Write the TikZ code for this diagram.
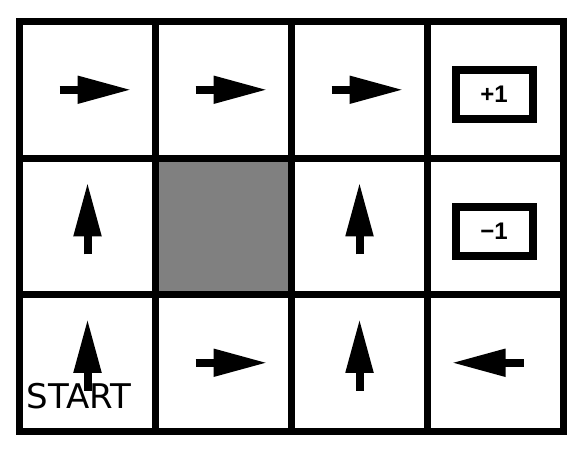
\documentclass[tikz,border=0pt]{standalone}
\usepackage{fontspec}
\setsansfont{DejaVu Sans}
\newfontfamily\rewardfont{Liberation Sans}
\usetikzlibrary{calc,arrows.meta}
\tikzset{cell/.style={draw, line width=7pt, minimum width=136pt, minimum height=136.5pt, inner sep=0pt, outer sep=0pt},
  policy/.style={line width=8pt, -{Triangle[length=54pt, width=26pt]}},
  reward/.style={draw, line width=8pt, minimum width=77pt, minimum height=49pt, inner sep=0pt, font=\rewardfont\bfseries\fontsize{24}{24}\selectfont}}

\begin{document}
\begin{tikzpicture}[x=1pt, y=-1pt]
    \useasboundingbox (0,0) rectangle (583,451);
    % the wall
    \fill[black!50] (155,156) rectangle (291,294);
    \foreach \r in {1,2,3}
        \foreach \c in {1,...,4}
            \node[cell] (c\r\c) at ({136*\c-48.5}, {136.5*\r-46.75}) {};
    % policy arrows
    \foreach \n/\dx/\dy in {c11/1/0, c12/1/0, c13/1/0, c21/0/-1, c23/0/-1, c31/0/-1, c32/1/0, c33/0/-1, c34/-1/0}
        \draw[policy] ($(\n)-28*(\dx,\dy)$) -- ($(\n)+44*(\dx,\dy)$);
    \node[reward] (win) at ($(c14)+(-1.5,4.5)$) {+1};
    \node[reward] (lose) at ($(c24)+(-1.5,5)$) {−1};
    \node[anchor=base west, inner sep=0pt, font=\sffamily\fontsize{34}{34}\selectfont] (start) at ($(c31.south west)+(7,-23)$) {START};
\end{tikzpicture}
\end{document}
